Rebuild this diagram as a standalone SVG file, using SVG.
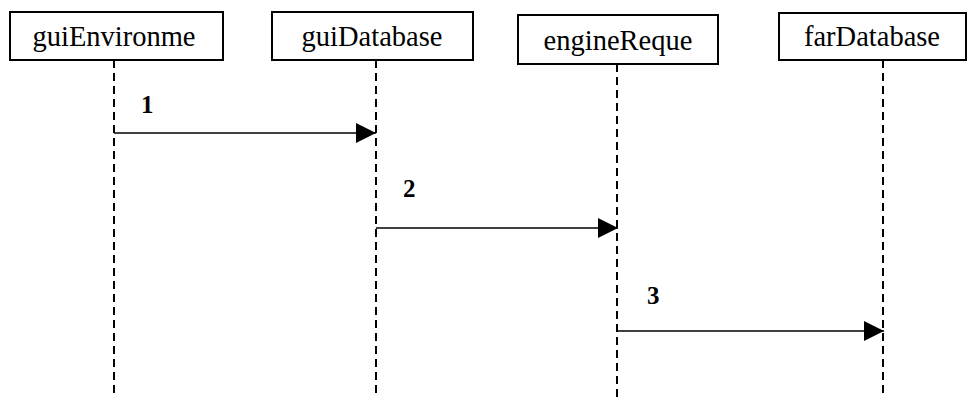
<svg xmlns="http://www.w3.org/2000/svg" width="968" height="398" viewBox="0 0 968 398">
  <style>
    .box { fill: #fff; stroke: #000; stroke-width: 2; }
    .name { font-family: "Liberation Serif", "Times New Roman", serif; font-size: 28.5px; fill: #000; text-anchor: middle; }
    .life { stroke: #000; stroke-width: 2; stroke-dasharray: 8 5; fill: none; }
    .msg { stroke: #000; stroke-width: 1.6; fill: none; marker-end: url(#head); }
    .num { font-family: "Liberation Serif", "Times New Roman", serif; font-size: 25px; font-weight: bold; fill: #000; }
  </style>
  <defs>
    <marker id="head" markerUnits="userSpaceOnUse" markerWidth="22" markerHeight="22" refX="20" refY="11" orient="auto">
      <path d="M0,1 L20,11 L0,21 Z" fill="#000"/>
    </marker>
  </defs>
  <rect width="968" height="398" fill="#fff"/>

  <!-- lifelines and messages -->
  <g id="connectors">
    <line class="life" x1="114" y1="60" x2="114" y2="398"/>
    <line class="life" x1="376" y1="60" x2="376" y2="398"/>
    <line class="life" x1="617" y1="64" x2="617" y2="398"/>
    <line class="life" x1="883" y1="60" x2="883" y2="398"/>

    <line class="msg" x1="114" y1="133" x2="376" y2="133"/>
    <text class="num" x="141" y="113">1</text>

    <line class="msg" x1="376" y1="228" x2="618" y2="228"/>
    <text class="num" x="403" y="197">2</text>

    <line class="msg" x1="617" y1="331" x2="884" y2="331"/>
    <text class="num" x="647" y="304">3</text>
  </g>

  <g id="guiEnvironme">
    <rect class="box" x="10" y="12" width="213" height="48"/>
    <text class="name" x="114" y="46">guiEnvironme</text>
  </g>
  <g id="guiDatabase">
    <rect class="box" x="272" y="12" width="201" height="48"/>
    <text class="name" x="372" y="46">guiDatabase</text>
  </g>
  <g id="engineReque">
    <rect class="box" x="518" y="15" width="200" height="49"/>
    <text class="name" x="618" y="50">engineReque</text>
  </g>
  <g id="farDatabase">
    <rect class="box" x="779" y="13" width="187" height="47"/>
    <text class="name" x="872" y="46">farDatabase</text>
  </g>
</svg>
